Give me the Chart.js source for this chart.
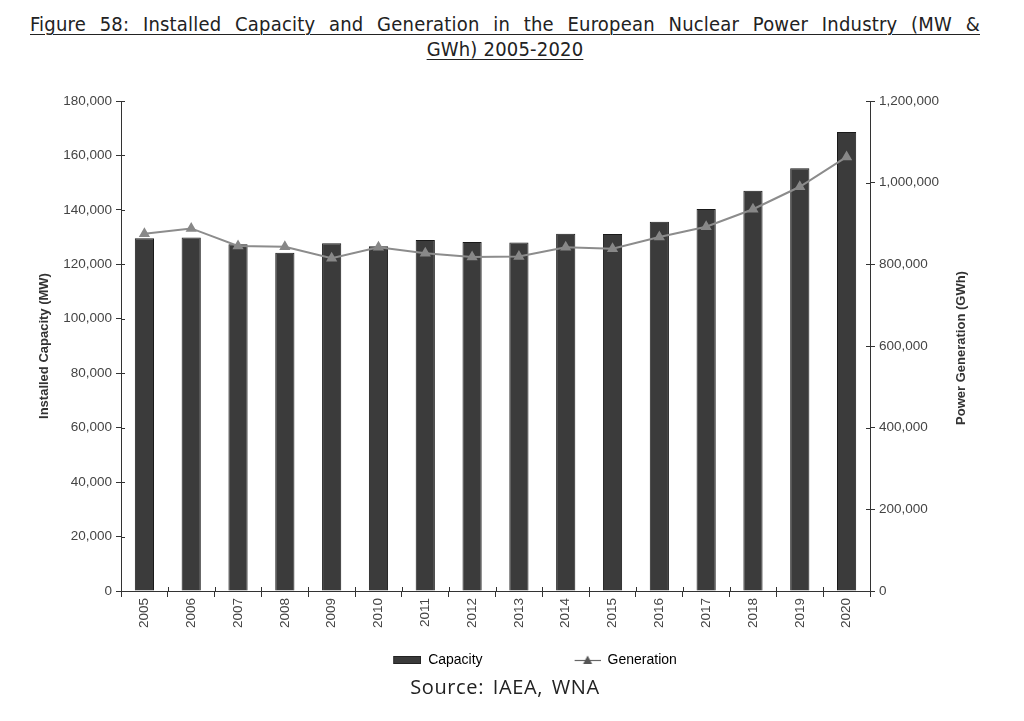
<!DOCTYPE html>
<html>
<head>
<meta charset="utf-8">
<script src="https://cdn.jsdelivr.net/npm/chart.js@4.4.1/dist/chart.umd.min.js"></script>
<style>
  html, body { margin: 0; padding: 0; background: #fff; }
  #wrap { position: relative; width: 1024px; height: 721px; overflow: hidden; background: #fff; }
  .tt { font-family: "DejaVu Sans Condensed", "DejaVu Sans", sans-serif; font-size: 20px; letter-spacing: 0.2px; color: #222; text-decoration: underline; text-decoration-thickness: 1px; text-underline-offset: 3px; }
  #t1 { position: absolute; left: 30px; top: 12px; width: 950px; text-align: justify; text-align-last: justify; white-space: nowrap; }
  #t2 { position: absolute; left: 0; top: 37px; width: 1010px; text-align: center; }
  #src { position: absolute; left: 0; top: 673px; width: 1010px; text-align: center; font-family: "Open Sans", sans-serif; font-size: 20px; letter-spacing: 0.6px; word-spacing: 3px; color: #222; }
  canvas { position: absolute; left: 0; top: 0; }
</style>
</head>
<body>
<div id="wrap">
  <div id="t1" class="tt">Figure 58: Installed Capacity and Generation in the European Nuclear Power Industry (MW &amp;</div>
  <div id="t2" class="tt">GWh) 2005-2020</div>
  <canvas id="c" width="1024" height="721"></canvas>
  <div id="src">Source: IAEA, WNA</div>
</div>
<script>
const years = ["2005","2006","2007","2008","2009","2010","2011","2012","2013","2014","2015","2016","2017","2018","2019","2020"];
const capacityMW = [129600, 129900, 127400, 124300, 127700, 126600, 128900, 128200, 128000, 131200, 131100, 135600, 140300, 147000, 155300, 168600];
const generationGWh = [875000, 888000, 845000, 843000, 815000, 842000, 827000, 818000, 819000, 842000, 838000, 867000, 892000, 935000, 990000, 1063000];
const leftTicks = [0, 20000, 40000, 60000, 80000, 100000, 120000, 140000, 160000, 180000];
const rightTicks = [0, 200000, 400000, 600000, 800000, 1000000, 1200000];
const rightTitle = 'Power Generation (GWh)';

function fmt(v) { return v.toLocaleString('en-US'); }
const FONT = 'Liberation Sans, Arial, sans-serif';

// legend symbols (blank space on the left of each icon)
const ICON_W = 108;
const capIcon = document.createElement('canvas');
capIcon.width = ICON_W; capIcon.height = 10;
(function(){ const g = capIcon.getContext('2d'); g.fillStyle = '#3a3a3a'; g.fillRect(ICON_W-28, 1, 28, 8); g.strokeStyle='#222'; g.lineWidth=1; g.strokeRect(ICON_W-27.5,1.5,27,7); })();
const genIcon = document.createElement('canvas');
genIcon.width = ICON_W; genIcon.height = 12;
(function(){ const g = genIcon.getContext('2d'); g.strokeStyle = '#666'; g.lineWidth = 1.2; g.beginPath(); g.moveTo(ICON_W-26, 6.5); g.lineTo(ICON_W, 6.5); g.stroke(); g.fillStyle = '#555'; const cx = ICON_W-13; g.beginPath(); g.moveTo(cx, 1.5); g.lineTo(cx+4.5, 10); g.lineTo(cx-4.5, 10); g.closePath(); g.fill(); })();

const crossTicks = {
  id: 'crossTicks',
  afterDatasetsDraw(chart) {
    const ctx = chart.ctx;
    const x = chart.scales.x, y = chart.scales.y, y2 = chart.scales.y2;
    ctx.save();
    ctx.strokeStyle = '#333'; ctx.lineWidth = 1;
    ctx.beginPath();
    for (let i = 0; i <= years.length; i++) {
      const px = Math.round(x.getPixelForValue(i - 0.5)) + 0.5;
      ctx.moveTo(px, x.top - 4); ctx.lineTo(px, x.top);
    }
    leftTicks.forEach(v => { const py = Math.round(y.getPixelForValue(v)) + 0.5; ctx.moveTo(y.right, py); ctx.lineTo(y.right + 4, py); });
    rightTicks.forEach(v => { const py = Math.round(y2.getPixelForValue(v)) + 0.5; ctx.moveTo(y2.left - 4, py); ctx.lineTo(y2.left, py); });
    ctx.stroke();
    // right axis title, reading bottom-to-top
    const ca = chart.chartArea;
    ctx.translate(961, (ca.top + ca.bottom) / 2 + 2);
    ctx.rotate(-Math.PI / 2);
    ctx.fillStyle = '#333';
    ctx.font = 'bold 13px ' + FONT;
    ctx.textAlign = 'center'; ctx.textBaseline = 'middle';
    ctx.fillText(rightTitle, 0, 0);
    ctx.restore();
  }
};

new Chart(document.getElementById('c'), {
  data: {
    labels: years,
    datasets: [
      {
        type: 'line', label: 'Generation', data: generationGWh, yAxisID: 'y2',
        borderColor: '#8c8c8c', borderWidth: 2, pointStyle: 'triangle', pointRadius: 4.5,
        pointBackgroundColor: '#888', pointBorderColor: '#888', tension: 0, order: 0
      },
      {
        type: 'bar', label: 'Capacity', data: capacityMW, yAxisID: 'y',
        backgroundColor: '#3b3b3b', borderColor: '#1a1a1a', borderWidth: 1,
        barPercentage: 0.82, categoryPercentage: 0.5, order: 1
      }
    ]
  },
  options: {
    responsive: false, animation: false,
    layout: { padding: { left: 30, right: 64, top: 101, bottom: 44 } },
    plugins: {
      tooltip: { enabled: false },
      legend: {
        position: 'bottom',
        labels: {
          usePointStyle: true, pointStyleWidth: ICON_W, padding: 10,
          color: '#333', font: { family: FONT, size: 14 },
          generateLabels: () => [
            { text: 'Capacity', pointStyle: capIcon, fillStyle: '#3b3b3b', strokeStyle: '#222', lineWidth: 0, datasetIndex: 1 },
            { text: 'Generation', pointStyle: genIcon, fillStyle: '#777', strokeStyle: '#777', lineWidth: 0, datasetIndex: 0 }
          ]
        }
      }
    },
    scales: {
      x: {
        offset: true,
        grid: { offset: true, drawOnChartArea: false, color: '#333', tickLength: 6 },
        border: { color: '#333', width: 1 },
        ticks: { minRotation: 90, maxRotation: 90, color: '#444', font: { family: FONT, size: 13.5 }, padding: 1 },
        afterFit: s => { s.height = 52; }
      },
      y: {
        position: 'left', min: 0, max: 180000,
        afterBuildTicks: s => { s.ticks = leftTicks.map(v => ({ value: v })); },
        grid: { drawOnChartArea: false, color: '#333', tickLength: 5 },
        border: { color: '#333', width: 1 },
        ticks: { color: '#444', font: { family: FONT, size: 13.5 }, padding: 4, callback: v => fmt(v) },
        title: { display: true, text: 'Installed Capacity (MW)', color: '#333', font: { family: FONT, size: 13, weight: 'bold' }, padding: { top: 7, bottom: 0 } },
        afterFit: s => { s.width = 91; }
      },
      y2: {
        position: 'right', min: 0, max: 1200000,
        afterBuildTicks: s => { s.ticks = rightTicks.map(v => ({ value: v })); },
        grid: { drawOnChartArea: false, color: '#333', tickLength: 5 },
        border: { color: '#333', width: 1 },
        ticks: { color: '#444', font: { family: FONT, size: 13.5 }, padding: 4, callback: v => fmt(v) },
        afterFit: s => { s.width = 90; }
      }
    }
  },
  plugins: [crossTicks]
});
</script>
</body>
</html>
